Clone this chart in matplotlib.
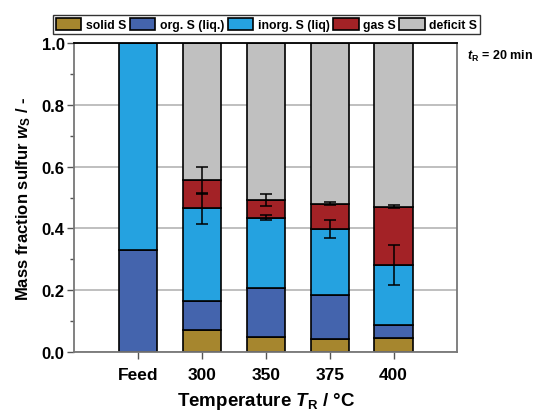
import matplotlib.pyplot as plt
import numpy as np
from matplotlib.ticker import MultipleLocator, FormatStrFormatter

plt.rcParams['font.family'] = 'Liberation Sans'
plt.rcParams['font.weight'] = 'bold'
plt.rcParams['mathtext.fontset'] = 'custom'
plt.rcParams['mathtext.rm'] = 'Liberation Sans:bold'
plt.rcParams['mathtext.it'] = 'Liberation Sans:italic:bold'
plt.rcParams['mathtext.bf'] = 'Liberation Sans:bold'

labels = ['Feed', '300', '350', '375', '400']
solid = [0.0, 0.070, 0.048, 0.041, 0.046]
org = [0.330, 0.093, 0.158, 0.143, 0.040]
inorg = [0.670, 0.302, 0.229, 0.213, 0.195]
gas = [0.0, 0.091, 0.057, 0.083, 0.189]
# std. deviations of the cumulative inorg. and gas levels
err_inorg = [0.0, 0.051, 0.008, 0.029, 0.064]
err_gas = [0.0, 0.043, 0.019, 0.004, 0.005]

names = ['solid S', 'org. S (liq.)', 'inorg. S (liq)', 'gas S', 'deficit S']
colors = ['#A6862E', '#4464AD', '#25A2E0', '#A32226', '#C0C0C0']

solid = np.array(solid)
org = np.array(org)
inorg = np.array(inorg)
gas = np.array(gas)
deficit = 1.0 - (solid + org + inorg + gas)
deficit[0] = 0.0

x = np.arange(1, len(labels) + 1)
w = 0.6

fig = plt.figure(figsize=(5.33, 4.14), dpi=100)
ax = fig.add_axes([0.1394, 0.148, 0.7189, 0.745])

ax.yaxis.grid(True, color='#b4b4b4', lw=1.2, zorder=0)
ax.set_axisbelow(True)

bottom = np.zeros(len(x))
for vals, c, n in zip([solid, org, inorg, gas, deficit], colors, names):
    ax.bar(x, vals, w, bottom=bottom, color=c, edgecolor='black', lw=1.2,
           label=n, zorder=2)
    bottom = bottom + vals

top_inorg = solid + org + inorg
top_gas = top_inorg + gas
ax.errorbar(x[1:], top_inorg[1:], yerr=err_inorg[1:], fmt='none', ecolor='black',
            elinewidth=1.1, capsize=4, capthick=1.1, zorder=3)
ax.errorbar(x[1:], top_gas[1:], yerr=err_gas[1:], fmt='none', ecolor='black',
            elinewidth=1.1, capsize=4, capthick=1.1, zorder=3)

ax.set_xlim(0, 6)
ax.set_ylim(0, 1.0)
ax.set_xticks(x)
ax.set_xticklabels(labels)
ax.yaxis.set_major_locator(MultipleLocator(0.2))
ax.yaxis.set_minor_locator(MultipleLocator(0.1))
ax.yaxis.set_major_formatter(FormatStrFormatter('%.1f'))
ax.tick_params(axis='y', which='major', labelsize=12, direction='out',
               length=5, width=1, color='#555555', pad=2)
ax.tick_params(axis='x', which='major', labelsize=12.5, direction='out',
               length=5, width=1, color='#555555', pad=6)
ax.tick_params(axis='y', which='minor', direction='out', length=3, width=1,
               color='#555555')

for s in ['left', 'right', 'bottom']:
    ax.spines[s].set_color('#777777')
    ax.spines[s].set_linewidth(1.3)
ax.spines['top'].set_color('black')
ax.spines['top'].set_linewidth(1.3)

ax.set_ylabel(r'Mass fraction sulfur $\mathit{w}_\mathrm{S}$ / -', fontsize=12,
              fontweight='bold', labelpad=6)
ax.set_xlabel(r'Temperature $\mathit{T}_\mathrm{R}$ / °C', fontsize=13.5,
              fontweight='bold', labelpad=6)

ax.text(1.024, 0.985, r'$\mathit{t}_\mathrm{R}$ = 20 min', transform=ax.transAxes,
        fontsize=9, fontweight='bold', va='top', ha='left')

leg = fig.legend(loc='upper center', bbox_to_anchor=(0.5, 0.962), ncol=5,
                 fontsize=8.8, frameon=True, fancybox=False, edgecolor='black',
                 handlelength=2.1, handleheight=1.2, handletextpad=0.35,
                 columnspacing=0.3, borderpad=0.25, borderaxespad=0)
leg.get_frame().set_linewidth(1.0)
for t in leg.get_texts():
    t.set_fontweight('bold')

fig.savefig('out.png', dpi=100)
